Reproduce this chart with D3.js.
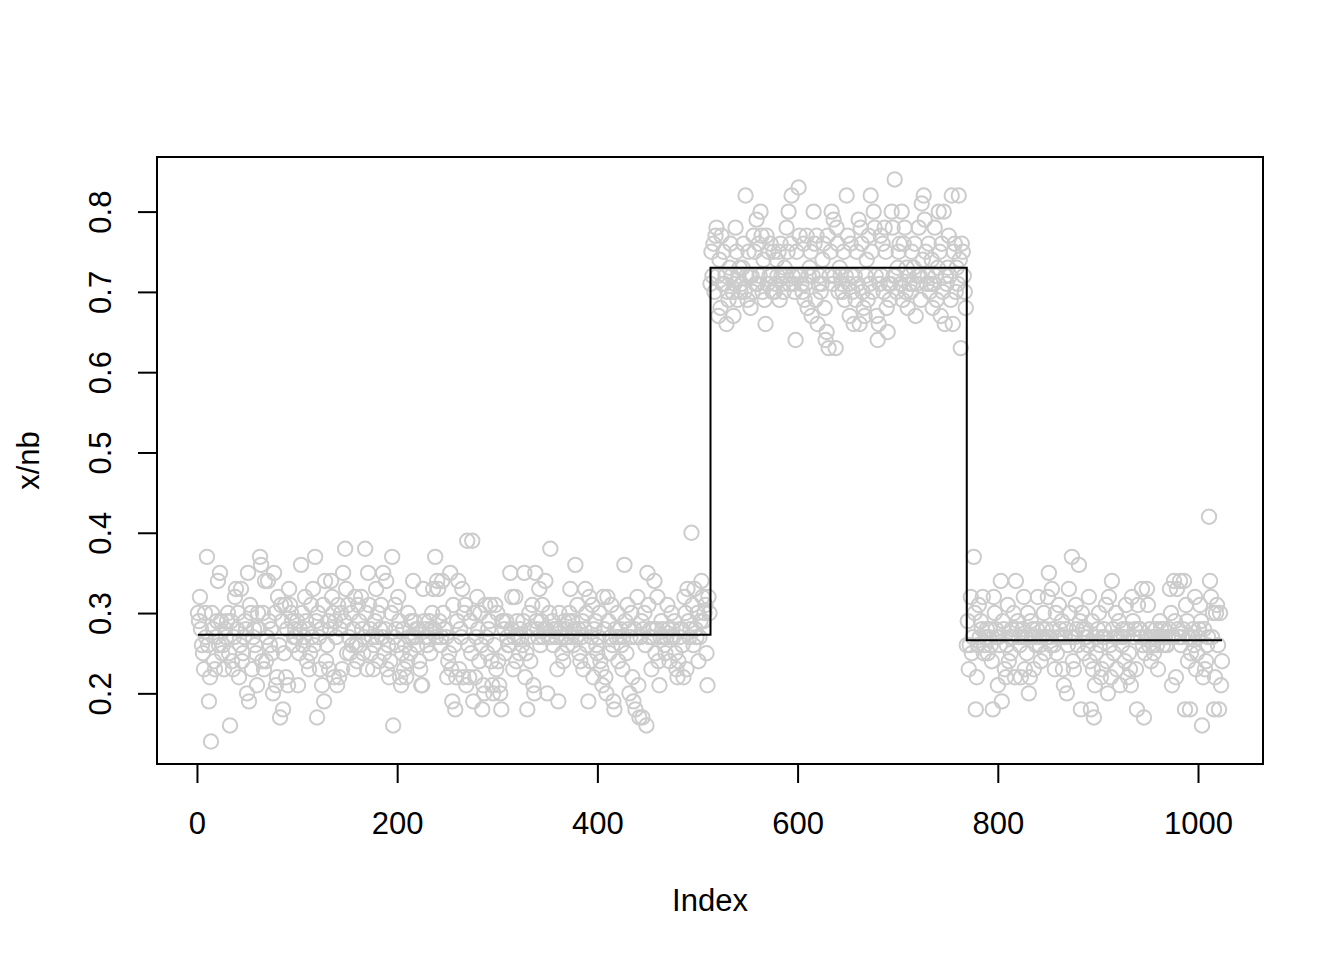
<!DOCTYPE html>
<html>
<head>
<meta charset="utf-8">
<script src="https://cdn.jsdelivr.net/npm/d3@7"></script>
<style>
  html, body { margin: 0; padding: 0; background: #ffffff; }
  svg { display: block; }
</style>
</head>
<body>
<div id="chart"></div>
<script>
// ---- data (counts x, divided by nb) ----
const nb = 100;
const seg1Counts = [
30,29,32,28,26,25,23,30,27,37,26,19,22,14,30,28,24,23,27,29,
34,26,35,29,25,26,23,28,27,29,30,25,16,29,24,23,27,32,33,28,
30,22,26,33,24,25,27,29,28,20,35,19,31,30,23,27,28,26,25,21,
30,28,37,36,24,30,23,34,24,27,34,29,26,28,25,20,35,30,21,22,
32,26,17,31,29,18,25,31,22,28,21,33,31,30,29,26,27,28,27,29,
21,25,28,36,30,26,27,32,29,24,28,23,25,31,27,33,26,37,29,17,
30,27,23,28,21,31,19,34,24,26,29,23,28,34,32,30,22,29,27,21,
31,22,28,30,23,35,29,38,33,25,31,27,25,30,26,28,23,32,26,24,
31,29,26,32,28,25,27,38,30,23,35,31,28,25,27,23,26,29,33,27,
30,24,28,31,27,35,25,28,34,23,26,22,24,30,37,16,27,31,28,26,
32,29,22,21,25,28,23,26,22,24,30,27,25,29,27,34,29,27,28,26,
28,24,23,21,21,33,29,27,28,26,27,29,25,28,30,33,28,37,27,34,
33,29,26,27,34,30,28,28,27,22,24,25,35,23,19,31,26,18,22,29,
34,23,28,27,33,22,30,31,21,39,26,22,29,25,39,19,30,22,27,32,
28,24,30,26,18,21,20,31,27,25,28,29,31,24,21,20,26,31,23,30,
24,21,20,18,29,29,28,25,29,27,26,26,35,28,32,23,27,32,24,29,
27,25,28,27,26,29,35,22,25,18,27,30,24,28,31,21,20,35,29,28,
27,33,26,29,31,27,28,34,28,20,27,30,38,27,29,26,28,28,27,23,
19,30,28,27,25,24,29,28,27,26,29,30,33,27,29,26,28,36,27,31,
28,25,24,27,29,23,28,33,30,26,19,32,24,27,31,22,28,29,26,25,
27,30,24,23,21,32,28,22,20,32,29,25,27,31,26,19,18,28,27,30,
24,27,28,26,23,27,36,29,25,31,28,20,27,30,22,19,28,18,27,32,
21,17,27,29,17,28,30,26,16,35,31,27,28,23,27,28,34,25,28,32,
24,21,27,29,28,27,26,25,27,31,28,24,27,30,28,27,29,25,23,22,
24,27,28,28,26,22,32,30,23,33,29,27,28,40,31,26,33,28,27,30,
24,27,29,34,32,29,30,31,25,21,32,30
];
const seg2Counts = [
71,75,72,76,70,77,78,72,67,74,68,77,71,75,71,72,66,70,69,73,
76,72,70,67,71,78,75,69,72,73,70,71,73,76,70,82,72,69,75,72,
68,72,70,77,75,71,79,71,76,72,80,77,70,74,69,66,77,71,75,72,
76,72,70,75,70,71,74,72,75,69,76,72,71,70,73,72,78,75,80,71,
76,82,72,71,70,64,75,72,83,77,72,71,70,76,69,71,77,68,72,73,
75,67,72,80,76,69,77,66,71,72,70,71,74,76,68,64,65,77,63,72,
75,80,71,79,72,63,78,76,70,73,72,71,70,75,69,72,82,77,71,67,
76,72,70,66,72,69,75,71,79,66,78,76,70,68,67,72,74,69,77,71,
82,75,70,80,78,72,67,64,66,71,77,72,76,70,78,75,68,65,71,69,
71,80,78,72,84,72,70,73,75,76,71,80,69,76,78,70,73,68,72,71,
70,75,71,73,76,67,71,72,78,72,69,81,74,82,79,75,71,72,76,70,
71,74,68,71,78,72,69,73,80,75,67,76,70,80,66,72,71,73,77,72,
69,82,66,75,76,70,73,71,82,74,63,76,75,72,70,68
];
const seg3Counts = [
26,29,23,26,32,25,27,37,30,18,22,26,31,27,29,28,32,25,26,27,
28,25,27,28,26,24,18,32,30,28,27,21,27,26,34,19,29,28,23,22,
26,31,24,27,25,28,27,30,22,34,28,29,27,26,22,27,28,32,23,27,
25,30,20,22,29,27,28,23,27,26,28,32,27,26,24,27,28,30,25,28,
27,32,35,27,26,33,28,26,23,30,25,27,31,28,27,29,23,21,27,28,
20,26,33,30,27,37,24,23,27,31,28,26,36,29,18,30,28,25,27,28,
27,26,32,24,18,29,23,17,21,25,27,28,30,26,22,23,27,28,27,31,
24,20,32,26,22,34,28,25,27,30,23,27,29,21,27,26,28,27,24,31,
28,22,25,23,21,32,29,27,28,23,18,31,28,28,27,33,26,17,25,27,
33,31,26,28,24,27,26,25,27,28,26,23,27,29,28,27,26,28,27,26,
26,27,28,33,30,21,27,34,29,22,33,28,27,34,26,27,28,34,18,31,
29,24,27,18,25,27,28,26,32,23,25,27,28,31,29,16,22,28,23,24,
26,27,42,34,32,27,30,18,22,30,31,26,18,30,21,24
];
// segment levels of the step line
const segStart = [1, 513, 769];
const segEnd   = [512, 768, 1024];
const segLevel = [0.2731, 0.7301, 0.2662];

const xTicks = [0, 200, 400, 600, 800, 1000];
const yTicks = [0.2, 0.3, 0.4, 0.5, 0.6, 0.7, 0.8];
const xLabel = "Index";
const yLabel = "x/nb";

// ---- build ----
const counts = seg1Counts.concat(seg2Counts, seg3Counts);
const data = counts.map((c, i) => ({ i: i + 1, v: c / nb }));

const W = 1344, H = 960;
const plot = { left: 157, right: 1263, top: 157, bottom: 764 };

const n = data.length;
const xPad = (n - 1) * 0.04;
const vMin = d3.min(data, d => d.v), vMax = d3.max(data, d => d.v);
const yPad = (vMax - vMin) * 0.04;

const x = d3.scaleLinear().domain([1 - xPad, n + xPad]).range([plot.left, plot.right]);
const y = d3.scaleLinear().domain([vMin - yPad, vMax + yPad]).range([plot.bottom, plot.top]);

const svg = d3.select("#chart").append("svg")
  .attr("width", W).attr("height", H)
  .style("font-family", "'Liberation Sans', Arial, Helvetica, sans-serif");

svg.append("rect").attr("x", 0).attr("y", 0).attr("width", W).attr("height", H).attr("fill", "#fff");

// points
svg.append("g").selectAll("circle").data(data).enter().append("circle")
  .attr("cx", d => x(d.i))
  .attr("cy", d => y(d.v))
  .attr("r", 7.2)
  .attr("fill", "none")
  .attr("stroke", "#cccccc")
  .attr("stroke-width", 2);

// step line
const stepPts = segStart.map((s, k) => [s, segLevel[k]]);
stepPts.push([segEnd[segEnd.length - 1], segLevel[segLevel.length - 1]]);
const line = d3.line().x(d => x(d[0])).y(d => y(d[1])).curve(d3.curveStepAfter);
svg.append("path").attr("d", line(stepPts))
  .attr("fill", "none").attr("stroke", "#000").attr("stroke-width", 2);

// box
svg.append("rect")
  .attr("x", plot.left).attr("y", plot.top)
  .attr("width", plot.right - plot.left).attr("height", plot.bottom - plot.top)
  .attr("fill", "none").attr("stroke", "#000").attr("stroke-width", 2);

const fontPx = 31;
const tickLen = 19;

// x axis
const gx = svg.append("g").attr("transform", `translate(0,${plot.bottom})`)
  .call(d3.axisBottom(x).tickValues(xTicks).tickSize(tickLen).tickSizeOuter(0).tickFormat(d3.format("d")));
gx.select(".domain").attr("d", `M${x(xTicks[0])},0H${x(xTicks[xTicks.length - 1])}`)
  .attr("stroke", "#000").attr("stroke-width", 2);
gx.selectAll(".tick line").attr("stroke", "#000").attr("stroke-width", 2);
gx.selectAll(".tick text")
  .attr("y", 59).attr("dy", null)
  .attr("dominant-baseline", "central")
  .attr("font-size", fontPx).attr("font-family", "'Liberation Sans', Arial, sans-serif")
  .attr("fill", "#000");

// y axis
const gy = svg.append("g").attr("transform", `translate(${plot.left},0)`)
  .call(d3.axisLeft(y).tickValues(yTicks).tickSize(tickLen).tickSizeOuter(0).tickFormat(d3.format(".1f")));
gy.select(".domain").attr("d", `M0,${y(yTicks[0])}V${y(yTicks[yTicks.length - 1])}`)
  .attr("stroke", "#000").attr("stroke-width", 2);
gy.selectAll(".tick line").attr("stroke", "#000").attr("stroke-width", 2);
gy.selectAll(".tick text")
  .attr("x", null).attr("dy", null)
  .attr("transform", "translate(-57,0) rotate(-90)")
  .attr("text-anchor", "middle")
  .attr("dominant-baseline", "central")
  .attr("font-size", fontPx).attr("font-family", "'Liberation Sans', Arial, sans-serif")
  .attr("fill", "#000");

// axis titles
svg.append("text")
  .attr("x", (plot.left + plot.right) / 2).attr("y", 900)
  .attr("text-anchor", "middle").attr("dominant-baseline", "central")
  .attr("font-size", fontPx).attr("fill", "#000").text(xLabel);

svg.append("text")
  .attr("transform", `translate(28,${(plot.top + plot.bottom) / 2}) rotate(-90)`)
  .attr("text-anchor", "middle").attr("dominant-baseline", "central")
  .attr("font-size", fontPx).attr("fill", "#000").text(yLabel);
</script>
</body>
</html>
